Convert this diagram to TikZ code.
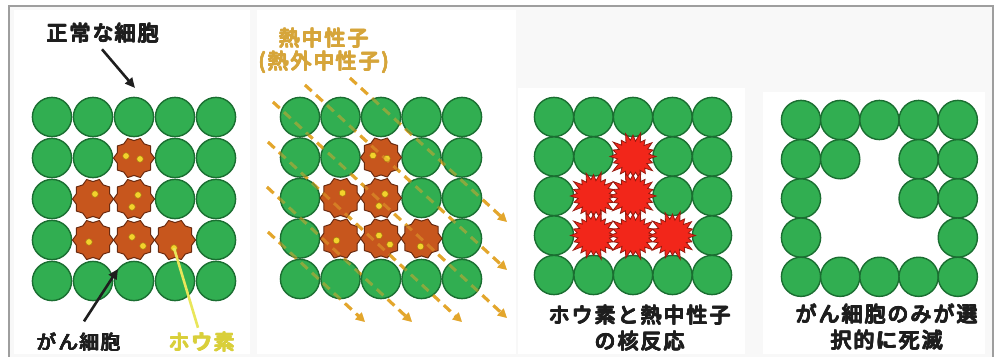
\documentclass[tikz,border=0pt]{standalone}
\usepackage{fontspec}
\newfontfamily\jp{Noto Sans CJK JP}[LetterSpace=9]
\usetikzlibrary{arrows.meta}

% heavy gothic lettering: the line is set a few times with small offsets
\newcommand\heavy[1]{\leavevmode
  \rlap{\kern0.5pt#1}\rlap{\kern1pt#1}%
  \rlap{\raisebox{0.5pt}{#1}}\rlap{\kern0.5pt\raisebox{0.5pt}{#1}}%
  \rlap{\kern1pt\raisebox{0.5pt}{#1}}\rlap{\raisebox{-0.3pt}{#1}}%
  \rlap{\kern1pt\raisebox{-0.3pt}{#1}}#1\kern1pt}

\definecolor{cellgreen}{HTML}{31AE51}
\definecolor{cellrim}{HTML}{1A6E31}
\definecolor{tumour}{HTML}{C7561D}
\definecolor{tumourrim}{HTML}{6A2A0F}
\definecolor{boron}{HTML}{F4D22C}
\definecolor{boronrim}{HTML}{A8800E}
\definecolor{blast}{HTML}{F2261A}
\definecolor{blastrim}{HTML}{961A0E}
\definecolor{neutron}{HTML}{E3A62C}
\definecolor{labelblack}{HTML}{1E1E1E}
\definecolor{labelgold}{HTML}{D6A53A}
\definecolor{labelyellow}{HTML}{D9CF3A}
\definecolor{boronline}{HTML}{E9E65A}
\definecolor{framegray}{HTML}{9E9E9E}
\definecolor{backdrop}{HTML}{F8F8F8}

\tikzset{
  healthycell/.style={fill=cellgreen, draw=cellrim, line width=1.4pt},
  tumourcell/.style={fill=tumour, draw=tumourrim, line width=1pt, line join=round},
  blastcell/.style={fill=blast, draw=blastrim, line width=0.8pt, line join=miter},
  borondot/.style={fill=boron, draw=boronrim, line width=0.5pt},
  beam/.style={draw=neutron, line width=3pt, dash pattern=on 9pt off 6pt,
    -{Triangle[length=9pt,width=9pt]}},
  pointer/.style={draw=labelblack, line width=2.6pt, -{Triangle[length=10pt,width=9pt]}},
  boronlead/.style={draw=boronline, line width=2.6pt},
  lbl/.style={font=\jp\fontsize{21}{26}\selectfont, text=labelblack,
    inner sep=0pt, align=center},
  healthy/.pic={\path[healthycell] (0,0) circle[radius=19.6];},
  tumour/.pic={\path[tumourcell] (0:20.5)
    \foreach \k in {0,...,9}{ -- ({\k*36+18}:17.4) -- ({\k*36+36}:20.5)} -- cycle;},
  blast/.pic={\path[blastcell] (0:23)
    \foreach \k/\ro/\ri in {1/20.5/16,2/24/15.5,3/21/16.5,4/25/15.5,5/20/16,6/23.5/15.5,
      7/21.5/16.5,8/25/15.5,9/20.5/16,10/23/15.5,11/21/16.5,12/24.5/15.5,13/20/16,
      14/24/15.5,15/21.5/16.5,16/25/15.5,17/20.5/16,18/23.5/15.5,19/21/16.5}
      { -- ({\k*18-9}:\ri) -- ({\k*18}:\ro) } -- (351:16) -- cycle;},
}

% healthy cells of a 5x5 tissue, leaving the six tumour sites free
\newcommand\tissue[3]{%
  \foreach \r in {0,...,4}{\foreach \c in {0,...,4}{%
    \pgfmathtruncatemacro\site{(\r==1&&\c==2)||(\r==2&&\c>0&&\c<3)||(\r==3&&\c>0&&\c<4)}%
    \ifnum\site=0 \pic at ({#1+#3*\c},{#2+#3*\r}) {healthy};\fi
  }}}
% the six tumour sites
\newcommand\sites[4]{%
  \foreach \r/\c in {1/2,2/1,2/2,3/1,3/2,3/3}{\pic at ({#1+#3*\c},{#2+#3*\r}) {#4};}}
% boron taken up by the tumour cells
\newcommand\boron[3]{%
  \foreach \r/\c/\dx/\dy in {1/2/-8/-2,1/2/6/1,2/1/2/-5,2/2/4/-4,2/2/-2/8,
      3/1/-4/2,3/2/-2/-3,3/2/9/6,3/3/-1/8}
    {\path[borondot] ({#1+#3*\c+\dx},{#2+#3*\r+\dy}) circle[radius=3.3];}}

\begin{document}
\begin{tikzpicture}[x=1pt,y=-1pt]
\useasboundingbox (0,0) rectangle (1000,356);

% backdrop and panels
\fill[backdrop] (9,6) rectangle (993,358);
\fill[white] (14,10) rectangle (250,354);
\fill[white] (257,10) rectangle (516,354);
\fill[white] (518,88) rectangle (745,354);
\fill[white] (763,92) rectangle (985,354);
\draw[framegray, line width=1.5pt] (9,360) -- (9,6) -- (993,6) -- (993,360);

% panel 1: tissue with boron taken up by tumour cells
\tissue{52}{117}{41}
\sites{52}{117}{41}{tumour}
\boron{52}{117}{41}
\coordinate (borondot) at (174,248);
\coordinate (normaltip) at (135,88);
\coordinate (tumourtip) at (118,269);
\node[lbl] (normal) at (103,33) {\heavy{正常な細胞}};
\node[lbl, font=\jp\fontsize{19.5}{24}\selectfont] (tumourlbl) at (79,342) {\heavy{がん細胞}};
\node[lbl, text=labelyellow] (boronlbl) at (202,342) {\heavy{ホウ素}};
\draw[pointer] ([xshift=-1pt,yshift=-6pt]normal.south) -- (normaltip);
\draw[pointer] ([xshift=5pt,yshift=11pt]tumourlbl.north) -- (tumourtip);
\draw[boronlead] (borondot) -- ([xshift=-4pt,yshift=4pt]boronlbl.north);

% panel 2: neutron irradiation
\coordinate (b1s) at (350,78);  \coordinate (b1e) at (507,222);
\coordinate (b2s) at (305,85);  \coordinate (b2e) at (507,270);
\coordinate (b3s) at (273,102); \coordinate (b3e) at (507,318);
\coordinate (b4s) at (268,142); \coordinate (b4e) at (462,322);
\coordinate (b5s) at (267,187); \coordinate (b5e) at (412,322);
\coordinate (b6s) at (268,232); \coordinate (b6e) at (365,322);
\foreach \b in {1,...,6}{\draw[beam] (b\b s) -- (b\b e);}
\tissue{300}{117}{40.5}
\sites{300}{117}{40.5}{tumour}
\boron{300}{117}{40.5}
\foreach \b in {1,...,6}{\draw[beam, opacity=0.5] (b\b s) -- (b\b e);}
\node[lbl, text=labelgold, font=\jp\fontsize{21}{23}\selectfont]
  (neutronlbl) at (324,51) {\heavy{熱中性子}\\\heavy{(熱外中性子)}};

% panel 3: boron neutron capture reaction
\tissue{554}{117}{39.5}
\sites{554}{117}{39.5}{blast}
\node[lbl] (reaction) at (640,328) {\heavy{ホウ素と熱中性子}\\\heavy{の核反応}};

% panel 4: only the tumour cells are gone
\tissue{801}{120}{39.2}
\node[lbl] (result) at (887,327) {\heavy{がん細胞のみが選}\\\heavy{択的に死滅}};
\end{tikzpicture}
\end{document}
